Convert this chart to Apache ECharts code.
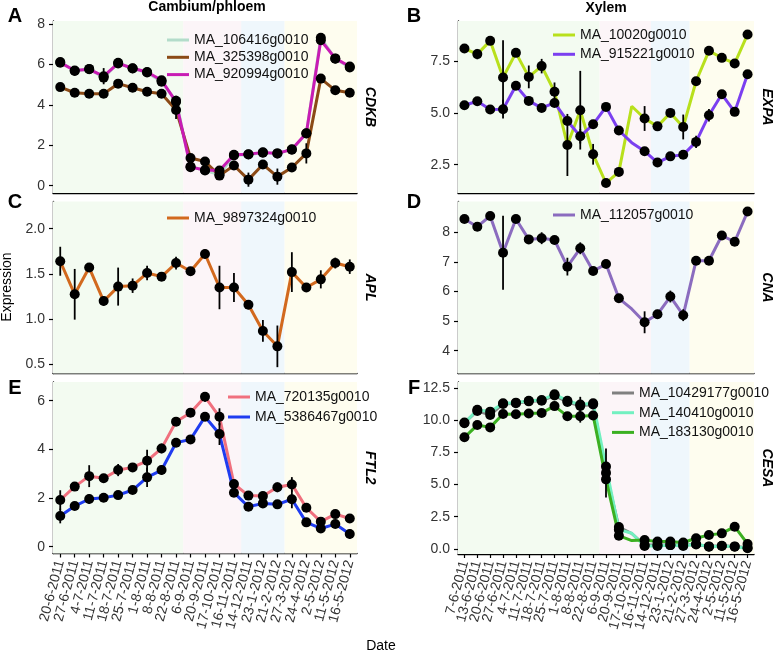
<!DOCTYPE html>
<html>
<head>
<meta charset="utf-8">
<script src="https://cdn.jsdelivr.net/npm/echarts@6/dist/echarts.min.js"></script>
<style>
  html, body { margin: 0; padding: 0; background: #fff; }
  #chart { width: 776px; height: 652px; }
</style>
</head>
<body>
<div id="chart"></div>
<script>
'use strict';

// sampling dates
const datesPhloem = ['20-6-2011', '27-6-2011', '4-7-2011', '11-7-2011', '18-7-2011', '25-7-2011', '1-8-2011',
  '8-8-2011', '22-8-2011', '6-9-2011', '20-9-2011', '17-10-2011', '16-11-2011', '14-12-2011', '23-1-2012',
  '21-2-2012', '27-3-2012', '24-4-2012', '2-5-2012', '11-5-2012', '16-5-2012'];
const datesXylem = ['7-6-2011', '13-6-2011', '20-6-2011', '27-6-2011', '4-7-2011', '11-7-2011', '18-7-2011',
  '25-7-2011', '1-8-2011', '8-8-2011', '22-8-2011', '6-9-2011', '20-9-2011', '17-10-2011', '16-11-2011',
  '14-12-2011', '23-1-2012', '21-2-2012', '27-3-2012', '24-4-2012', '2-5-2012', '11-5-2012', '16-5-2012'];
// xylem dates where the line passes but no point is drawn
const xylemNoPoint = ['17-10-2011'];
// first date of each shaded season (after the first one)
const seasonStarts = ['6-9-2011', '14-12-2011', '27-3-2012'];

// A: CDKB (cambium/phloem)
const cdkb106416 = [6.12, 5.68, 5.78, 5.35, 6.08, 5.8, 5.6, 5.15, 4.2, 0.95, 0.75, 0.55, 1.5, 1.55, 1.63, 1.6, 1.78, 2.58, 7.32, 6.28, 5.85];
const cdkb325398 = [4.88, 4.6, 4.55, 4.55, 5.05, 4.85, 4.65, 4.55, 3.75, 1.37, 1.2, 0.5, 1.0, 0.3, 1.05, 0.45, 0.9, 1.6, 5.3, 4.72, 4.6];
const cdkb920994 = [6.09, 5.7, 5.76, 5.42, 6.05, 5.81, 5.63, 5.22, 4.15, 0.92, 0.78, 0.75, 1.53, 1.56, 1.65, 1.6, 1.8, 2.6, 7.2, 6.3, 5.9];
const cdkb106416Err = [0, 0, 0, 0, 0, 0, 0, 0, 0, 0, 0, 0, 0, 0, 0, 0, 0, 0, 0, 0, 0];
const cdkb325398Err = [0, 0, 0, 0.2, 0, 0, 0, 0, 0.45, 0, 0, 0, 0, 0.35, 0, 0.4, 0, 0.5, 0, 0, 0];
const cdkb920994Err = [0, 0, 0, 0.4, 0, 0, 0.15, 0, 0.3, 0, 0, 0, 0, 0, 0.15, 0, 0, 0, 0, 0, 0];

// B: EXPA (xylem)
const expa10020 = [8.11, 7.84, 8.48, 6.71, 7.9, 6.74, 7.26, 6.02, 3.45, 5.13, 3.0, 1.61, 2.15, 5.32, 4.73, 4.35, 5.0, 4.32, 6.53, 8.0, 7.66, 7.39, 8.79];
const expa915221 = [5.37, 5.56, 5.16, 5.18, 6.31, 5.58, 5.24, 5.48, 4.61, 3.87, 4.45, 5.29, 4.15, 3.56, 3.15, 2.6, 2.9, 2.98, 3.6, 4.89, 5.9, 5.05, 6.87];
const expa10020Err = [0.1, 0.25, 0, 1.8, 0, 0.55, 0.35, 0.45, 1.5, 1.9, 0.5, 0, 0, 0, 0.6, 0.2, 0, 0.6, 0, 0.2, 0, 0, 0];
const expa915221Err = [0.15, 0, 0, 0.45, 0, 0, 0, 0, 0, 0.35, 0, 0, 0, 0, 0, 0, 0, 0, 0.3, 0.3, 0, 0, 0];

// C: APL (cambium/phloem)
const apl9897324 = [1.64, 1.275, 1.57, 1.2, 1.36, 1.37, 1.51, 1.47, 1.62, 1.53, 1.72, 1.35, 1.35, 1.16, 0.87, 0.7, 1.52, 1.35, 1.44, 1.62, 1.58];
const apl9897324Err = [0.16, 0.28, 0, 0.05, 0.21, 0.08, 0.08, 0, 0.07, 0, 0.05, 0.24, 0.16, 0.05, 0.12, 0.23, 0.22, 0, 0.1, 0.06, 0.08];

// D: CNA (xylem)
const cna112057 = [8.45, 8.19, 8.55, 7.31, 8.45, 7.76, 7.8, 7.74, 6.84, 7.46, 6.69, 6.93, 5.77, 5.41, 4.96, 5.23, 5.83, 5.2, 7.04, 7.04, 7.89, 7.68, 8.7];
const cna112057Err = [0, 0, 0, 1.25, 0, 0.15, 0.2, 0, 0.3, 0.2, 0, 0, 0, 0, 0.37, 0.15, 0.2, 0.2, 0, 0, 0, 0, 0];

// E: FTL2 (cambium/phloem)
const ftl720135 = [1.92, 2.47, 2.9, 2.81, 3.15, 3.26, 3.53, 4.04, 5.14, 5.51, 6.16, 5.34, 2.58, 2.1, 2.08, 2.44, 2.56, 1.6, 1.03, 1.34, 1.16];
const ftl5386467 = [1.26, 1.67, 1.96, 2.01, 2.12, 2.33, 2.85, 3.15, 4.27, 4.41, 5.34, 4.63, 2.22, 1.64, 1.78, 1.74, 1.95, 1.0, 0.75, 0.93, 0.52];
const ftl720135Err = [0.4, 0, 0.45, 0, 0.25, 0, 0.45, 0.2, 0, 0, 0.2, 0.35, 0, 0, 0.15, 0.2, 0.3, 0, 0, 0, 0];
const ftl5386467Err = [0.3, 0, 0.2, 0, 0, 0, 0.4, 0.2, 0, 0, 0, 0.45, 0, 0, 0, 0, 0.37, 0, 0, 0, 0.2];

// F: CESA (xylem)
const cesa10429177 = [9.8, 10.7, 10.4, 11.25, 11.3, 11.45, 11.5, 11.9, 11.4, 11.1, 11.2, 5.9, 1.7, 1.2, 0.3, 0.3, 0.3, 0.3, 0.35, 0.2, 0.25, 0.2, 0.1];
const cesa140410 = [9.75, 10.8, 10.65, 11.3, 11.35, 11.5, 11.55, 12.0, 11.5, 11.2, 11.3, 6.4, 1.5, 1.22, 0.23, 0.23, 0.3, 0.23, 0.39, 0.18, 0.23, 0.18, 0.05];
const cesa183130 = [8.66, 9.61, 9.43, 10.47, 10.45, 10.5, 10.55, 11.08, 10.3, 10.3, 10.35, 5.4, 1.03, 0.65, 0.7, 0.57, 0.57, 0.5, 0.83, 1.09, 1.21, 1.73, 0.39];
const cesa10429177Err = [0, 0, 0, 0, 0, 0, 0, 0, 0, 0, 0, 1.9, 0, 0, 0, 0, 0, 0, 0, 0, 0, 0, 0];
const cesa140410Err = [0, 0, 0, 0, 0, 0, 0, 0, 0.3, 0.6, 0, 0, 0, 0, 0, 0, 0, 0, 0, 0, 0, 0, 0];
const cesa183130Err = [0, 0, 0.3, 0, 0, 0, 0, 0, 0, 0.5, 0, 0, 0, 0, 0, 0, 0, 0, 0, 0, 0, 0, 0];

// y tick labels
const cdkbTicks = [0, 2, 4, 6, 8];
const expaTicks = [2.5, 5.0, 7.5];
const aplTicks = [0.5, 1.0, 1.5, 2.0];
const cnaTicks = [4, 5, 6, 7, 8];
const ftlTicks = [0, 2, 4, 6];
const cesaTicks = [0, 2.5, 5.0, 7.5, 10.0, 12.5];

const seasonColors = ['#f3fbf1', '#fcf5f8', '#eff7fc', '#fefdef'];
const FONT = '"Liberation Sans", Arial, sans-serif';

const panels = [
  { gene: 'CDKB', dates: datesPhloem, box: [53, 21, 304, 172], y: [-0.36, 8.15], ticks: cdkbTicks, dec: 0,
    legend: [167, 33, 3.3], showDates: false,
    genes: [
      { name: 'MA_106416g0010', v: cdkb106416, e: cdkb106416Err, color: '#b3dcca' },
      { name: 'MA_325398g0010', v: cdkb325398, e: cdkb325398Err, color: '#8b4a16' },
      { name: 'MA_920994g0010', v: cdkb920994, e: cdkb920994Err, color: '#c81cb4' }] },
  { gene: 'EXPA', dates: datesXylem, box: [458, 21, 296, 172], y: [1.13, 9.44], ticks: expaTicks, dec: 1,
    legend: [553, 28, 5.3], showDates: false,
    genes: [
      { name: 'MA_10020g0010', v: expa10020, e: expa10020Err, color: '#b8e01c' },
      { name: 'MA_915221g0010', v: expa915221, e: expa915221Err, color: '#7b3ff0' }] },
  { gene: 'APL', dates: datesPhloem, box: [53, 201.5, 304, 172], y: [0.40, 2.30], ticks: aplTicks, dec: 1,
    legend: [167, 211, 5], showDates: false,
    genes: [
      { name: 'MA_9897324g0010', v: apl9897324, e: apl9897324Err, color: '#d2691e' }] },
  { gene: 'CNA', dates: datesXylem, box: [458, 201.5, 296, 172], y: [3.23, 9.04], ticks: cnaTicks, dec: 0,
    legend: [553, 208, 5], showDates: false,
    genes: [
      { name: 'MA_112057g0010', v: cna112057, e: cna112057Err, color: '#8b6cbf' }] },
  { gene: 'FTL2', dates: datesPhloem, box: [53, 382, 304, 171.5], y: [-0.28, 6.77], ticks: ftlTicks, dec: 0,
    legend: [228, 390, 6], showDates: true,
    genes: [
      { name: 'MA_720135g0010', v: ftl720135, e: ftl720135Err, color: '#f0707e' },
      { name: 'MA_5386467g0010', v: ftl5386467, e: ftl5386467Err, color: '#1f3cf0' }] },
  { gene: 'CESA', dates: datesXylem, box: [458, 382, 296, 172], y: [-0.39, 12.95], ticks: cesaTicks, dec: 1,
    legend: [612, 386, 5.7], showDates: true,
    genes: [
      { name: 'MA_10429177g0010', v: cesa10429177, e: cesa10429177Err, color: '#808080' },
      { name: 'MA_140410g0010', v: cesa140410, e: cesa140410Err, color: '#72f0c0' },
      { name: 'MA_183130g0010', v: cesa183130, e: cesa183130Err, color: '#3bb021' }] }
];

const grid = [], xAxis = [], yAxis = [], series = [], legend = [];

panels.forEach((p, i) => {
  const n = p.dates.length;
  grid.push({ left: p.box[0], top: p.box[1], width: p.box[2], height: p.box[3],
    containLabel: false, outerBoundsMode: 'none' });

  // date axis (2i) and a hidden numeric twin (2i+1) used for the season bands
  xAxis.push({
    type: 'category', gridIndex: i, data: p.dates, boundaryGap: true,
    axisLine: { show: true, onZero: false, lineStyle: { color: '#000', width: 1.4 } },
    axisTick: { show: p.showDates, alignWithLabel: true, interval: 0, length: 4,
      lineStyle: { color: '#000', width: 1.2 } },
    axisLabel: { show: p.showDates, interval: 0, rotate: 75, fontSize: 14, color: '#333',
      margin: 7, fontFamily: FONT },
    splitLine: { show: false }
  });
  xAxis.push({ type: 'value', gridIndex: i, show: false, min: -0.5, max: n - 0.5 });

  yAxis.push({
    type: 'value', gridIndex: i, min: p.y[0], max: p.y[1],
    axisLine: { show: true, onZero: false, lineStyle: { color: '#000', width: 1.4 } },
    axisTick: { show: true, customValues: p.ticks, length: 4, lineStyle: { color: '#000', width: 1.2 } },
    axisLabel: { customValues: p.ticks, formatter: v => v.toFixed(p.dec), fontSize: 14, color: '#333',
      showMinLabel: true, showMaxLabel: true, margin: 8, fontFamily: FONT },
    splitLine: { show: false }
  });
  // facet strip label on the right
  yAxis.push({
    type: 'value', gridIndex: i, position: 'right', min: 0, max: 1,
    name: p.gene, nameLocation: 'middle', nameRotate: -90, nameGap: 6,
    nameTextStyle: { fontWeight: 'bold', fontStyle: 'italic', fontSize: 14, color: '#000', fontFamily: FONT },
    axisLine: { show: false }, axisTick: { show: false }, axisLabel: { show: false }, splitLine: { show: false }
  });

  // season shading
  const cuts = [-0.5].concat(seasonStarts.map(d => p.dates.indexOf(d) - 0.5), [n - 0.5]);
  series.push({
    type: 'line', xAxisIndex: 2 * i + 1, yAxisIndex: 2 * i, z: 0, silent: true, symbol: 'none',
    lineStyle: { opacity: 0 }, data: p.genes[0].v.map((v, k) => [k, v]),
    markArea: { silent: true, data: seasonColors.map((c, s) => [
      { xAxis: cuts[s], itemStyle: { color: c, opacity: 1, borderWidth: 0 } }, { xAxis: cuts[s + 1] }]) }
  });

  p.genes.forEach(g => {
    series.push({
      name: g.name, type: 'line', xAxisIndex: 2 * i, yAxisIndex: 2 * i, z: 2,
      symbol: 'none', showSymbol: false, silent: true,
      lineStyle: { color: g.color, width: 3 }, itemStyle: { color: g.color },
      data: g.v.map((v, k) => [k, v])
    });
  });

  const pts = [], bars = [];
  p.genes.forEach(g => {
    g.v.forEach((v, k) => {
      if (p.dates !== datesXylem || xylemNoPoint.indexOf(p.dates[k]) < 0) pts.push([k, v]);
      if (g.e[k] > 0) bars.push([k, v - g.e[k], v + g.e[k]]);
    });
  });
  series.push({
    type: 'scatter', xAxisIndex: 2 * i, yAxisIndex: 2 * i, z: 3, silent: true,
    symbol: 'circle', symbolSize: 10, itemStyle: { color: '#000', opacity: 1 }, data: pts
  });
  series.push({
    type: 'custom', xAxisIndex: 2 * i, yAxisIndex: 2 * i, z: 4, silent: true,
    encode: { x: 0, y: [1, 2] }, data: bars,
    renderItem: (params, api) => {
      const a = api.coord([api.value(0), api.value(1)]);
      const b = api.coord([api.value(0), api.value(2)]);
      return { type: 'line', shape: { x1: a[0], y1: a[1], x2: b[0], y2: b[1] },
        style: { stroke: '#000', lineWidth: 1.8 } };
    }
  });

  legend.push({
    orient: 'vertical', left: p.legend[0], top: p.legend[1], itemGap: p.legend[2],
    itemWidth: 22, itemHeight: 3, icon: 'rect', selectedMode: false, padding: 0,
    textStyle: { fontSize: 14, color: '#111', fontFamily: FONT },
    data: p.genes.map(g => ({ name: g.name, itemStyle: { color: g.color } }))
  });
});

const txt = (x, y, text, size, weight, rot) => ({
  type: 'text', x: x, y: y, rotation: rot || 0, silent: true,
  style: { text: text, fontSize: size, fontWeight: weight, fontFamily: FONT, fill: '#000',
    align: 'center', verticalAlign: 'middle' }
});

const chart = echarts.init(document.getElementById('chart'), null, { renderer: 'canvas' });
chart.setOption({
  animation: false,
  textStyle: { fontFamily: FONT },
  grid: grid, xAxis: xAxis, yAxis: yAxis, series: series, legend: legend,
  graphic: [
    txt(207, 7, 'Cambium/phloem', 14, 'bold'),
    txt(606, 8, 'Xylem', 14, 'bold'),
    txt(15, 16.5, 'A', 20, 'bold'), txt(414, 16.5, 'B', 20, 'bold'),
    txt(15, 202, 'C', 20, 'bold'), txt(414, 202, 'D', 20, 'bold'),
    txt(15, 388, 'E', 20, 'bold'), txt(414, 388, 'F', 20, 'bold'),
    txt(7, 287, 'Expression', 14, 'normal', Math.PI / 2),
    txt(381, 646, 'Date', 14, 'normal')
  ]
});
</script>
</body>
</html>
